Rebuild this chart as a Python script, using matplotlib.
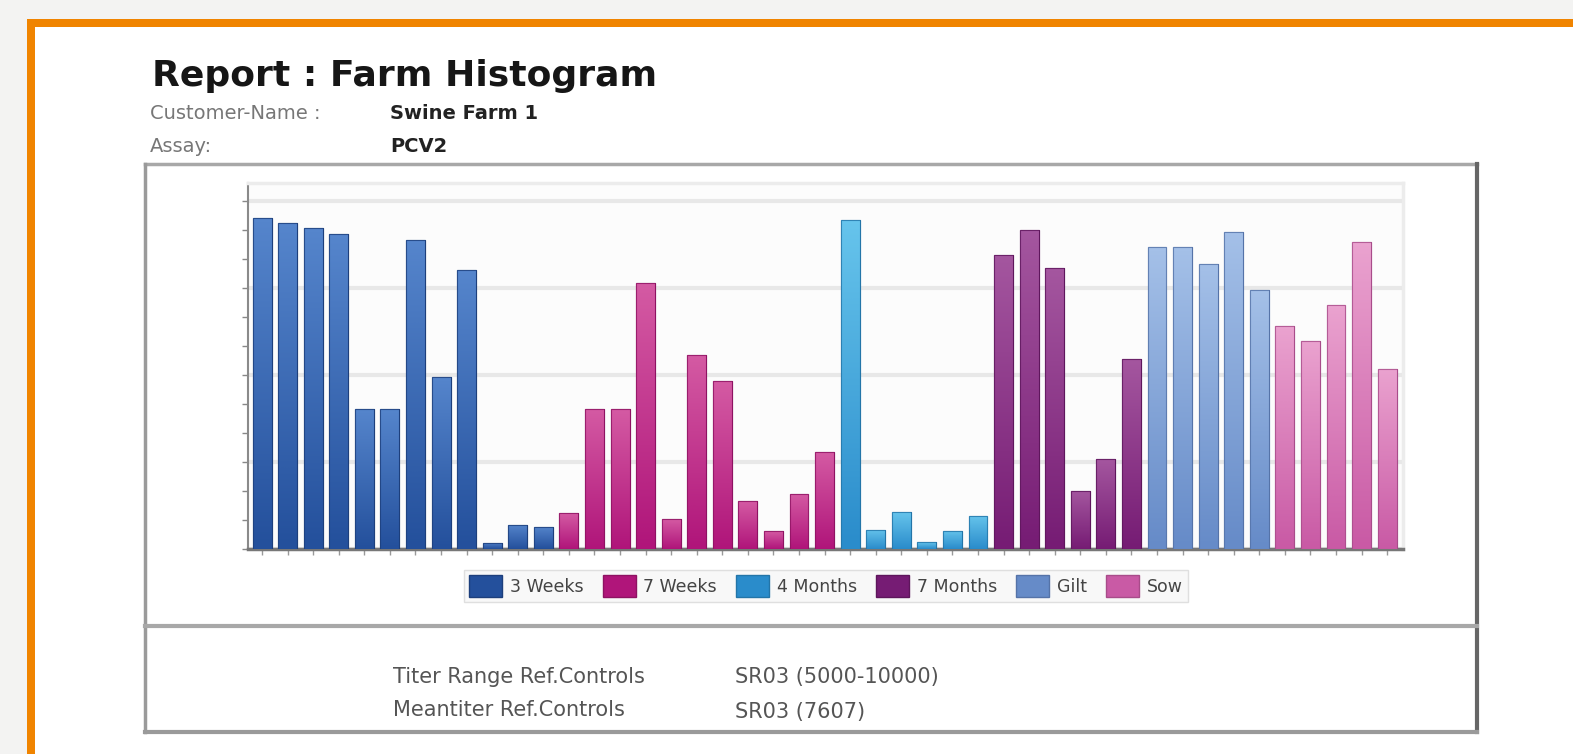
import numpy as np
import matplotlib
matplotlib.use("Agg")
import matplotlib.pyplot as plt
from matplotlib.patches import Rectangle, Patch
from matplotlib.colors import LinearSegmentedColormap

# ---------------- data ----------------
groups = ["3 Weeks", "7 Weeks", "4 Months", "7 Months", "Gilt", "Sow"]
weeks3 = [11.4, 11.23, 11.06, 10.86, 4.82, 4.82, 10.66, 5.94, 9.62, 0.22, 0.83, 0.77]
weeks7 = [1.23, 4.82, 4.82, 9.16, 1.03, 6.7, 5.78, 1.64, 0.61, 1.9, 3.33]
months4 = [11.34, 0.66, 1.26, 0.23, 0.63, 1.15]
months7 = [10.14, 11.01, 9.68, 2.01, 3.1, 6.55]
gilt = [10.4, 10.4, 9.83, 10.94, 8.93]
sow = [7.68, 7.18, 8.41, 10.57, 6.21]
series = [weeks3, weeks7, months4, months7, gilt, sow]

customer_name = "Swine Farm 1"
assay = "PCV2"
titer_range = "SR03 (5000-10000)"
meantiter = "SR03 (7607)"

# (bottom colour, top colour) for each group
grad_colors = [("#24509c", "#5585cc"),
               ("#b0157a", "#d45aa3"),
               ("#2a8ccb", "#66c4ec"),
               ("#761c74", "#a4569f"),
               ("#668bc8", "#a4c0e8"),
               ("#c95aa5", "#eaa2cf")]
edge_colors = ["#1d3f7c", "#8e1262", "#2375a8", "#5e165c", "#5573a8", "#a84c8a"]

W, H = 1573, 754
fig = plt.figure(figsize=(W / 100, H / 100), dpi=100)
fig.patch.set_facecolor("#f3f3f2")

# ---------------- page decoration (pixel coordinate layer) ----------------
bg = fig.add_axes([0, 0, 1, 1])
bg.set_xlim(0, W)
bg.set_ylim(H, 0)
bg.axis("off")
# orange frame + white page
bg.add_patch(Rectangle((27, 19), W, H, facecolor="white", edgecolor="none", zorder=1))
bg.add_patch(Rectangle((27, 19), W, 8, facecolor="#f08400", edgecolor="none", zorder=2))
bg.add_patch(Rectangle((27, 19), 8, H, facecolor="#f08400", edgecolor="none", zorder=2))

# header texts
bg.text(152, 86, "Report : Farm Histogram", fontsize=26, fontweight="bold",
        color="#161616", ha="left", va="baseline", zorder=3)
bg.text(150, 119, "Customer-Name :", fontsize=14, color="#777777",
        ha="left", va="baseline", zorder=3)
bg.text(390, 119, customer_name, fontsize=14, fontweight="bold", color="#222222",
        ha="left", va="baseline", zorder=3)
bg.text(150, 152, "Assay:", fontsize=14, color="#777777",
        ha="left", va="baseline", zorder=3)
bg.text(390, 152, assay, fontsize=14, fontweight="bold", color="#222222",
        ha="left", va="baseline", zorder=3)

# chart box
bg.plot([145, 1477], [164, 164], color="#a8a8a8", lw=2.5, zorder=3)
bg.plot([145, 145], [164, 732], color="#9a9a9a", lw=2.5, zorder=3)
bg.plot([1477, 1477], [164, 732], color="#666666", lw=3, zorder=3)
bg.plot([145, 1477], [626, 626], color="#a8a8a8", lw=3, zorder=3)
bg.plot([145, 1477], [732, 732], color="#9a9a9a", lw=3, zorder=3)

# footer texts
fs_foot = 15
bg.text(393, 683, "Titer Range Ref.Controls", fontsize=fs_foot, color="#555555",
        ha="left", va="baseline", zorder=3)
bg.text(735, 683, titer_range, fontsize=fs_foot, color="#555555",
        ha="left", va="baseline", zorder=3)
bg.text(393, 716, "Meantiter Ref.Controls", fontsize=fs_foot, color="#555555",
        ha="left", va="baseline", zorder=3)
bg.text(735, 718, meantiter, fontsize=fs_foot, color="#555555",
        ha="left", va="baseline", zorder=3)

# ---------------- chart ----------------
ax = fig.add_axes([248 / W, 1 - 549 / H, (1403 - 248) / W, (549 - 183) / H])
ax.set_facecolor("#fcfcfc")

values = [v for s in series for v in s]
group_idx = [g for g, s in enumerate(series) for _ in s]
x = np.arange(len(values))
bar_w = 0.74

bars = ax.bar(x, values, width=bar_w,
              color=[grad_colors[g][0] for g in group_idx],
              edgecolor=[edge_colors[g] for g in group_idx], linewidth=0.8, zorder=3)

grad = np.linspace(0, 1, 64).reshape(-1, 1)
for rect, g in zip(bars, group_idx):
    cmap = LinearSegmentedColormap.from_list("g%d" % g, list(grad_colors[g]))
    x0, w, h = rect.get_x(), rect.get_width(), rect.get_height()
    im = ax.imshow(grad, cmap=cmap, extent=(x0, x0 + w, 0, h), origin="lower",
                   aspect="auto", zorder=4, interpolation="bilinear")
    im.set_clip_path(rect)
    ax.add_patch(Rectangle((x0, 0), w, h, facecolor="none",
                           edgecolor=edge_colors[g], linewidth=0.8, zorder=5, alpha=0.8))

ax.set_xlim(-0.55, len(values) - 1 + 0.62)
ax.set_ylim(0, 12.62)

ax.set_yticks([0, 3, 6, 9, 12])
ax.set_yticks(np.arange(0, 13, 1), minor=True)
ax.set_yticklabels([])
ax.set_xticks(x)
ax.set_xticklabels([])
ax.tick_params(axis="y", which="both", direction="out", length=4, width=1, color="#888888")
ax.tick_params(axis="x", direction="out", length=4, width=1, color="#999999")
ax.grid(axis="y", which="major", color="#e8e8e8", linewidth=3, zorder=1)
ax.set_axisbelow(True)

for side in ["top", "right"]:
    ax.spines[side].set_color("#ececec")
    ax.spines[side].set_linewidth(2.5)
ax.spines["left"].set_color("#8a8a8a")
ax.spines["left"].set_linewidth(1.5)
ax.spines["bottom"].set_color("#777777")
ax.spines["bottom"].set_linewidth(2.5)

# legend
handles = [Patch(facecolor=grad_colors[i][0], edgecolor=edge_colors[i], label=groups[i])
           for i in range(len(groups))]
leg = fig.legend(handles=handles, loc="center", ncol=6,
                 bbox_to_anchor=((460 + 1192) / 2 / W, 1 - 586 / H),
                 frameon=True, fontsize=12.5, handlelength=1.9, handleheight=1.6,
                 handletextpad=0.45, columnspacing=1.1, borderpad=0.3, fancybox=False)
leg.get_frame().set_edgecolor("#d8d8d8")
leg.get_frame().set_facecolor("#f7f7f7")
for t in leg.get_texts():
    t.set_color("#444444")

fig.savefig("out.png", dpi=100, facecolor=fig.get_facecolor())
